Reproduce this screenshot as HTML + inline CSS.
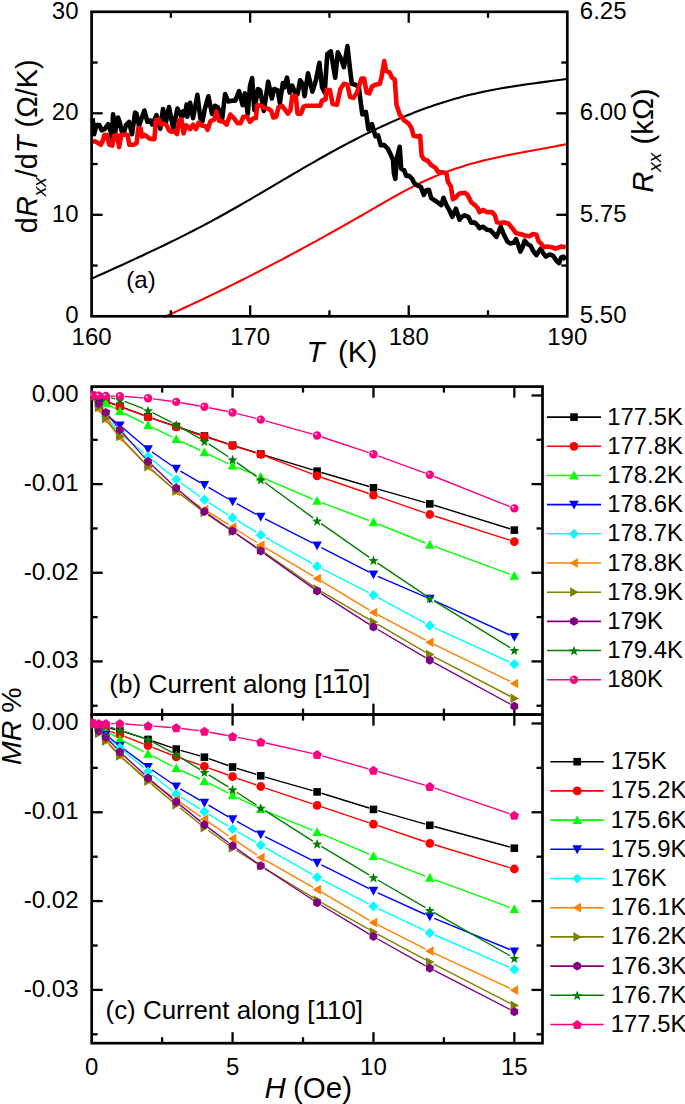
<!DOCTYPE html>
<html><head><meta charset="utf-8"><title>MR figure</title><style>html,body{margin:0;padding:0;background:#fff;}body{width:685px;height:1104px;overflow:hidden;}svg{display:block;font-family:"Liberation Sans",sans-serif;}</style></head><body>
<svg width="685" height="1104" viewBox="0 0 685 1104" font-family='"Liberation Sans", sans-serif' fill="#000">
<defs><radialGradient id="ball" cx="0.5" cy="0.5" r="0.5" fx="0.3" fy="0.3"><stop offset="0" stop-color="#FFFFFF"/><stop offset="0.12" stop-color="#FFD0E8"/><stop offset="0.3" stop-color="#FF2090"/><stop offset="0.5" stop-color="#FF0080"/><stop offset="1" stop-color="#F8007C"/></radialGradient><clipPath id="ca"><rect x="90.30" y="10.50" width="478.30" height="307.10"/></clipPath><clipPath id="cb"><rect x="90.40" y="385.30" width="453.40" height="329.30"/></clipPath><clipPath id="cc"><rect x="90.40" y="714.60" width="453.40" height="329.90"/></clipPath></defs>
<rect width="685" height="1104" fill="#fff"/>
<g clip-path="url(#ca)" fill="none" stroke-linejoin="round">
<polyline points="90.50,279.18 94.50,277.37 98.51,275.56 102.51,273.76 106.52,271.95 110.52,270.13 114.53,268.31 118.53,266.49 122.53,264.67 126.54,262.83 130.54,260.99 134.55,259.15 138.55,257.29 142.55,255.43 146.56,253.55 150.56,251.67 154.57,249.77 158.57,247.86 162.58,245.94 166.58,244.00 170.58,242.05 174.59,240.09 178.59,238.11 182.60,236.11 186.60,234.09 190.61,232.06 194.61,230.00 198.61,227.93 202.62,225.83 206.62,223.72 210.63,221.58 214.63,219.42 218.63,217.23 222.64,215.02 226.64,212.79 230.65,210.54 234.65,208.27 238.66,205.99 242.66,203.69 246.66,201.37 250.67,199.05 254.67,196.71 258.68,194.36 262.68,192.01 266.68,189.65 270.69,187.29 274.69,184.93 278.70,182.56 282.70,180.20 286.71,177.84 290.71,175.49 294.71,173.14 298.72,170.80 302.72,168.46 306.73,166.14 310.73,163.83 314.74,161.54 318.74,159.26 322.74,157.00 326.75,154.76 330.75,152.54 334.76,150.35 338.76,148.17 342.76,146.03 346.77,143.90 350.77,141.80 354.78,139.73 358.78,137.68 362.79,135.67 366.79,133.68 370.79,131.72 374.80,129.79 378.80,127.89 382.81,126.03 386.81,124.19 390.82,122.39 394.82,120.63 398.82,118.90 402.83,117.20 406.83,115.54 410.84,113.92 414.84,112.34 418.84,110.79 422.85,109.29 426.85,107.83 430.86,106.40 434.86,105.02 438.87,103.68 442.87,102.39 446.87,101.14 450.88,99.93 454.88,98.78 458.89,97.66 462.89,96.60 466.89,95.57 470.90,94.59 474.90,93.65 478.91,92.75 482.91,91.89 486.92,91.06 490.92,90.26 494.92,89.50 498.93,88.77 502.93,88.06 506.94,87.38 510.94,86.72 514.95,86.09 518.95,85.47 522.95,84.88 526.96,84.30 530.96,83.73 534.97,83.18 538.97,82.64 542.97,82.11 546.98,81.59 550.98,81.08 554.99,80.56 558.99,80.05 563.00,79.54 567.00,79.03" stroke="#000" stroke-width="2.1"/>
<polyline points="163.50,317.23 166.89,315.72 170.28,314.20 173.67,312.67 177.06,311.13 180.45,309.58 183.84,308.03 187.24,306.46 190.63,304.89 194.02,303.31 197.41,301.72 200.80,300.12 204.19,298.51 207.58,296.89 210.97,295.27 214.36,293.64 217.75,292.00 221.14,290.35 224.53,288.69 227.92,287.03 231.32,285.35 234.71,283.67 238.10,281.98 241.49,280.29 244.88,278.58 248.27,276.87 251.66,275.15 255.05,273.42 258.44,271.69 261.83,269.94 265.22,268.19 268.61,266.43 272.00,264.67 275.39,262.90 278.79,261.11 282.18,259.33 285.57,257.53 288.96,255.73 292.35,253.92 295.74,252.10 299.13,250.28 302.52,248.44 305.91,246.61 309.30,244.76 312.69,242.91 316.08,241.05 319.47,239.18 322.87,237.31 326.26,235.43 329.65,233.54 333.04,231.65 336.43,229.75 339.82,227.84 343.21,225.93 346.60,224.01 349.99,222.08 353.38,220.15 356.77,218.21 360.16,216.27 363.55,214.31 366.95,212.36 370.34,210.39 373.73,208.43 377.12,206.46 380.51,204.50 383.90,202.55 387.29,200.61 390.68,198.68 394.07,196.77 397.46,194.89 400.85,193.02 404.24,191.19 407.63,189.39 411.03,187.62 414.42,185.90 417.81,184.21 421.20,182.57 424.59,180.98 427.98,179.44 431.37,177.95 434.76,176.51 438.15,175.12 441.54,173.77 444.93,172.47 448.32,171.22 451.71,170.01 455.11,168.84 458.50,167.71 461.89,166.63 465.28,165.58 468.67,164.57 472.06,163.60 475.45,162.66 478.84,161.76 482.23,160.89 485.62,160.06 489.01,159.25 492.40,158.46 495.79,157.70 499.18,156.96 502.58,156.25 505.97,155.55 509.36,154.87 512.75,154.20 516.14,153.55 519.53,152.91 522.92,152.27 526.31,151.65 529.70,151.03 533.09,150.41 536.48,149.79 539.87,149.18 543.26,148.56 546.66,147.94 550.05,147.31 553.44,146.67 556.83,146.02 560.22,145.36 563.61,144.69 567.00,144.00" stroke="#FF0000" stroke-width="2.1"/>
<polyline points="92.60,118.20 94.10,134.20 96.40,125.10 99.40,125.10 101.70,130.40 104.70,128.90 108.10,124.30 110.80,131.90 111.50,140.00 113.10,114.40 115.30,131.90 118.00,117.50 119.90,122.80 121.80,131.90 123.70,133.40 126.00,125.10 129.00,122.00 132.00,134.20 135.10,112.50 136.40,113.50 139.00,125.70 144.40,110.50 147.40,121.90 150.00,120.40 152.30,124.50 156.50,115.10 160.30,128.70 163.00,109.00 166.00,121.90 169.00,107.10 173.20,128.70 177.40,108.60 181.60,117.30 183.10,111.30 185.00,115.10 186.60,104.50 187.19,116.72 190.11,102.85 193.03,118.18 197.41,94.82 200.33,118.18 202.52,121.09 204.71,109.42 208.36,96.28 212.01,113.80 214.93,105.77 217.85,107.23 222.23,118.18 225.15,94.09 228.07,101.39 231.72,100.66 235.36,100.66 239.01,91.17 242.66,105.04 244.85,93.36 247.77,113.80 249.96,86.06 252.15,78.03 254.34,110.15 257.99,88.98 260.18,90.44 263.83,110.88 268.21,81.68 271.86,98.47 274.05,88.98 277.70,90.44 279.89,102.85 282.81,83.14 284.38,87.30 287.01,77.67 289.64,92.56 292.26,85.55 294.89,92.56 297.52,94.31 300.15,80.29 302.78,83.80 304.53,96.06 308.03,73.29 312.41,91.68 315.91,80.29 319.42,62.78 322.05,87.30 324.67,92.56 327.30,54.02 330.81,51.39 335.19,77.67 337.81,52.26 341.32,59.27 343.95,67.15 347.45,46.13 350.08,69.78 351.83,83.80 355.33,84.67 358.84,87.30 360.59,101.32 362.34,114.46 365.84,111.83 368.47,129.35 371.98,124.09 375.48,136.36 378.11,135.48 380.74,145.12 384.24,145.12 387.74,148.62 390.37,153.88 393.00,160.01 393.87,172.99 395.33,178.83 396.79,158.39 399.71,146.72 401.17,168.61 404.09,170.07 406.28,175.91 409.20,175.91 412.12,178.83 414.31,183.21 417.23,185.40 420.88,186.86 423.80,194.89 425.99,190.51 428.91,189.78 431.09,197.81 434.01,200.00 437.66,202.19 441.31,205.11 443.50,197.81 446.42,205.11 449.34,210.22 452.26,216.79 455.91,208.76 459.56,219.71 461.75,216.79 464.67,215.33 468.32,216.79 471.24,222.63 474.89,222.63 477.81,225.55 479.49,228.18 483.14,226.72 486.79,229.64 490.44,230.36 493.36,233.28 496.28,236.93 498.47,232.55 500.66,226.72 503.58,234.01 507.23,241.31 510.15,243.50 513.80,242.77 515.99,239.12 518.18,244.96 520.36,251.53 522.55,247.15 524.74,240.58 527.66,244.23 530.58,245.69 533.50,251.53 536.42,255.18 538.61,251.53 540.80,248.61 542.99,252.99 545.91,256.64 549.56,254.45 553.21,255.91 556.13,260.29 559.05,263.21 561.24,257.37 563.43,256.64 565.62,259.56" stroke="#000" stroke-width="4.6"/>
<polyline points="91.00,141.00 95.60,141.60 100.90,144.80 103.20,139.50 104.30,135.10 107.00,135.10 109.30,144.80 112.30,145.60 114.20,135.70 116.90,134.90 119.10,147.10 121.40,134.90 125.20,134.50 127.50,134.90 129.40,144.80 133.60,144.80 136.60,143.30 138.30,128.00 140.60,128.50 142.10,136.60 144.50,134.80 146.40,136.20 149.30,138.40 152.20,139.10 154.40,139.10 155.90,120.10 158.80,119.40 161.00,124.50 163.90,123.80 166.80,125.30 169.00,130.40 171.20,131.80 174.10,131.10 177.10,134.00 179.20,120.10 181.40,119.40 183.60,133.30 185.80,125.30 187.19,126.20 190.11,129.12 193.03,124.74 195.95,129.12 198.87,122.55 201.79,125.47 205.44,126.20 207.63,129.85 210.55,121.09 214.20,119.64 216.39,111.61 219.31,121.09 223.69,121.82 226.61,124.74 230.26,114.53 233.91,118.18 237.55,123.28 240.47,123.28 243.39,116.72 247.04,116.72 249.96,121.82 253.61,118.18 255.80,118.18 257.26,105.04 260.91,105.77 264.56,107.96 268.21,108.69 271.13,110.88 273.32,117.45 276.24,116.72 278.43,107.23 282.08,105.77 285.26,110.08 287.88,113.58 290.51,110.08 292.26,96.06 295.77,96.06 297.52,113.58 301.02,113.58 303.65,106.57 306.28,105.70 311.53,105.70 320.29,105.70 322.05,100.44 325.55,99.57 326.43,89.93 329.93,89.93 332.56,103.95 336.94,104.82 340.44,89.05 343.95,83.80 347.45,84.67 350.08,96.94 353.58,97.81 357.08,92.56 361.46,78.54 364.09,78.54 366.72,92.56 369.35,93.43 371.98,86.43 375.48,84.67 379.86,83.80 381.61,76.79 384.24,61.02 385.99,70.66 389.50,72.41 392.12,77.67 394.75,79.42 396.50,104.82 400.01,115.33 401.17,116.06 404.09,120.44 408.47,123.36 411.39,127.74 413.58,135.77 417.23,136.50 420.15,135.77 421.61,155.47 423.80,159.12 427.45,160.58 431.09,164.96 435.47,167.88 438.39,172.26 442.04,172.26 446.42,172.99 447.88,181.75 450.80,186.13 452.99,199.27 455.91,197.08 459.56,193.43 464.67,192.70 467.59,194.89 471.24,202.19 474.89,205.11 477.81,208.03 479.49,212.12 483.14,209.93 486.79,212.12 491.90,212.12 494.82,215.04 497.01,222.34 500.66,223.07 504.31,222.34 508.69,223.80 512.34,228.18 515.99,233.28 520.36,234.01 524.74,235.47 529.85,236.20 532.77,234.01 536.42,234.74 538.61,241.31 541.53,244.23 543.72,247.15 547.37,246.42 551.75,247.15 555.40,248.61 557.59,247.88 561.24,246.42 565.62,247.15" stroke="#FF0000" stroke-width="4.6"/>
</g>
<rect x="91.60" y="11.80" width="475.70" height="304.50" fill="none" stroke="#000" stroke-width="2.7" stroke-linejoin="miter"/>
<line x1="170.88" y1="316.30" x2="170.88" y2="310.30" stroke="#000" stroke-width="2.3" stroke-linecap="butt"/>
<line x1="170.88" y1="11.80" x2="170.88" y2="17.80" stroke="#000" stroke-width="2.3" stroke-linecap="butt"/>
<line x1="250.17" y1="316.30" x2="250.17" y2="305.30" stroke="#000" stroke-width="2.3" stroke-linecap="butt"/>
<line x1="250.17" y1="11.80" x2="250.17" y2="22.80" stroke="#000" stroke-width="2.3" stroke-linecap="butt"/>
<line x1="329.45" y1="316.30" x2="329.45" y2="310.30" stroke="#000" stroke-width="2.3" stroke-linecap="butt"/>
<line x1="329.45" y1="11.80" x2="329.45" y2="17.80" stroke="#000" stroke-width="2.3" stroke-linecap="butt"/>
<line x1="408.73" y1="316.30" x2="408.73" y2="305.30" stroke="#000" stroke-width="2.3" stroke-linecap="butt"/>
<line x1="408.73" y1="11.80" x2="408.73" y2="22.80" stroke="#000" stroke-width="2.3" stroke-linecap="butt"/>
<line x1="488.02" y1="316.30" x2="488.02" y2="310.30" stroke="#000" stroke-width="2.3" stroke-linecap="butt"/>
<line x1="488.02" y1="11.80" x2="488.02" y2="17.80" stroke="#000" stroke-width="2.3" stroke-linecap="butt"/>
<line x1="91.60" y1="265.55" x2="97.60" y2="265.55" stroke="#000" stroke-width="2.3" stroke-linecap="butt"/>
<line x1="567.30" y1="265.55" x2="561.30" y2="265.55" stroke="#000" stroke-width="2.3" stroke-linecap="butt"/>
<line x1="91.60" y1="214.80" x2="102.60" y2="214.80" stroke="#000" stroke-width="2.3" stroke-linecap="butt"/>
<line x1="567.30" y1="214.80" x2="556.30" y2="214.80" stroke="#000" stroke-width="2.3" stroke-linecap="butt"/>
<line x1="91.60" y1="164.05" x2="97.60" y2="164.05" stroke="#000" stroke-width="2.3" stroke-linecap="butt"/>
<line x1="567.30" y1="164.05" x2="561.30" y2="164.05" stroke="#000" stroke-width="2.3" stroke-linecap="butt"/>
<line x1="91.60" y1="113.30" x2="102.60" y2="113.30" stroke="#000" stroke-width="2.3" stroke-linecap="butt"/>
<line x1="567.30" y1="113.30" x2="556.30" y2="113.30" stroke="#000" stroke-width="2.3" stroke-linecap="butt"/>
<line x1="91.60" y1="62.55" x2="97.60" y2="62.55" stroke="#000" stroke-width="2.3" stroke-linecap="butt"/>
<line x1="567.30" y1="62.55" x2="561.30" y2="62.55" stroke="#000" stroke-width="2.3" stroke-linecap="butt"/>
<text x="91.60" y="345.30" font-size="24" text-anchor="middle" >160</text>
<text x="250.17" y="345.30" font-size="24" text-anchor="middle" >170</text>
<text x="408.73" y="345.30" font-size="24" text-anchor="middle" >180</text>
<text x="567.30" y="345.30" font-size="24" text-anchor="middle" >190</text>
<text x="78.50" y="323.10" font-size="24" text-anchor="end" >0</text>
<text x="78.50" y="221.60" font-size="24" text-anchor="end" >10</text>
<text x="78.50" y="120.10" font-size="24" text-anchor="end" >20</text>
<text x="78.50" y="18.60" font-size="24" text-anchor="end" >30</text>
<text x="579.80" y="323.10" font-size="24" text-anchor="start" >5.50</text>
<text x="579.80" y="221.60" font-size="24" text-anchor="start" >5.75</text>
<text x="579.80" y="120.10" font-size="24" text-anchor="start" >6.00</text>
<text x="579.80" y="18.60" font-size="24" text-anchor="start" >6.25</text>
<text x="126.30" y="287.80" font-size="24" text-anchor="start" >(a)</text>
<text x="306.50" y="362.20" font-size="29.5" text-anchor="start" font-style="italic">T</text>
<text x="337.90" y="362.20" font-size="29.5" text-anchor="start" >(K)</text>
<text transform="translate(37.2,233.2) rotate(-90)" font-size="28.9">d<tspan font-style="italic">R</tspan><tspan font-size="19" font-style="italic" dy="8.5">xx</tspan><tspan dy="-8.5">/d</tspan><tspan font-style="italic">T</tspan> (Ω/K)</text>
<text transform="translate(652.6,192.8) rotate(-90)" font-size="29.3"><tspan font-style="italic">R</tspan><tspan font-size="19" font-style="italic" dy="8.8">xx</tspan><tspan dy="-8.8"> (kΩ)</tspan></text>
<rect x="91.70" y="386.60" width="450.80" height="328.00" fill="none" stroke="#000" stroke-width="2.7" stroke-linejoin="miter"/>
<rect x="91.70" y="714.60" width="450.80" height="328.60" fill="none" stroke="#000" stroke-width="2.7" stroke-linejoin="miter"/>
<line x1="162.14" y1="386.60" x2="162.14" y2="392.60" stroke="#000" stroke-width="2.3" stroke-linecap="butt"/>
<line x1="162.14" y1="708.60" x2="162.14" y2="720.60" stroke="#000" stroke-width="2.3" stroke-linecap="butt"/>
<line x1="162.14" y1="1043.20" x2="162.14" y2="1037.20" stroke="#000" stroke-width="2.3" stroke-linecap="butt"/>
<line x1="232.57" y1="386.60" x2="232.57" y2="397.60" stroke="#000" stroke-width="2.3" stroke-linecap="butt"/>
<line x1="232.57" y1="703.60" x2="232.57" y2="725.60" stroke="#000" stroke-width="2.3" stroke-linecap="butt"/>
<line x1="232.57" y1="1043.20" x2="232.57" y2="1032.20" stroke="#000" stroke-width="2.3" stroke-linecap="butt"/>
<line x1="303.01" y1="386.60" x2="303.01" y2="392.60" stroke="#000" stroke-width="2.3" stroke-linecap="butt"/>
<line x1="303.01" y1="708.60" x2="303.01" y2="720.60" stroke="#000" stroke-width="2.3" stroke-linecap="butt"/>
<line x1="303.01" y1="1043.20" x2="303.01" y2="1037.20" stroke="#000" stroke-width="2.3" stroke-linecap="butt"/>
<line x1="373.45" y1="386.60" x2="373.45" y2="397.60" stroke="#000" stroke-width="2.3" stroke-linecap="butt"/>
<line x1="373.45" y1="703.60" x2="373.45" y2="725.60" stroke="#000" stroke-width="2.3" stroke-linecap="butt"/>
<line x1="373.45" y1="1043.20" x2="373.45" y2="1032.20" stroke="#000" stroke-width="2.3" stroke-linecap="butt"/>
<line x1="443.89" y1="386.60" x2="443.89" y2="392.60" stroke="#000" stroke-width="2.3" stroke-linecap="butt"/>
<line x1="443.89" y1="708.60" x2="443.89" y2="720.60" stroke="#000" stroke-width="2.3" stroke-linecap="butt"/>
<line x1="443.89" y1="1043.20" x2="443.89" y2="1037.20" stroke="#000" stroke-width="2.3" stroke-linecap="butt"/>
<line x1="514.33" y1="386.60" x2="514.33" y2="397.60" stroke="#000" stroke-width="2.3" stroke-linecap="butt"/>
<line x1="514.33" y1="703.60" x2="514.33" y2="725.60" stroke="#000" stroke-width="2.3" stroke-linecap="butt"/>
<line x1="514.33" y1="1043.20" x2="514.33" y2="1032.20" stroke="#000" stroke-width="2.3" stroke-linecap="butt"/>
<line x1="91.70" y1="395.46" x2="102.70" y2="395.46" stroke="#000" stroke-width="2.3" stroke-linecap="butt"/>
<line x1="542.50" y1="395.46" x2="531.50" y2="395.46" stroke="#000" stroke-width="2.3" stroke-linecap="butt"/>
<line x1="91.70" y1="723.48" x2="102.70" y2="723.48" stroke="#000" stroke-width="2.3" stroke-linecap="butt"/>
<line x1="542.50" y1="723.48" x2="531.50" y2="723.48" stroke="#000" stroke-width="2.3" stroke-linecap="butt"/>
<line x1="91.70" y1="439.79" x2="97.70" y2="439.79" stroke="#000" stroke-width="2.3" stroke-linecap="butt"/>
<line x1="542.50" y1="439.79" x2="536.50" y2="439.79" stroke="#000" stroke-width="2.3" stroke-linecap="butt"/>
<line x1="91.70" y1="767.89" x2="97.70" y2="767.89" stroke="#000" stroke-width="2.3" stroke-linecap="butt"/>
<line x1="542.50" y1="767.89" x2="536.50" y2="767.89" stroke="#000" stroke-width="2.3" stroke-linecap="butt"/>
<line x1="91.70" y1="484.11" x2="102.70" y2="484.11" stroke="#000" stroke-width="2.3" stroke-linecap="butt"/>
<line x1="542.50" y1="484.11" x2="531.50" y2="484.11" stroke="#000" stroke-width="2.3" stroke-linecap="butt"/>
<line x1="91.70" y1="812.29" x2="102.70" y2="812.29" stroke="#000" stroke-width="2.3" stroke-linecap="butt"/>
<line x1="542.50" y1="812.29" x2="531.50" y2="812.29" stroke="#000" stroke-width="2.3" stroke-linecap="butt"/>
<line x1="91.70" y1="528.44" x2="97.70" y2="528.44" stroke="#000" stroke-width="2.3" stroke-linecap="butt"/>
<line x1="542.50" y1="528.44" x2="536.50" y2="528.44" stroke="#000" stroke-width="2.3" stroke-linecap="butt"/>
<line x1="91.70" y1="856.70" x2="97.70" y2="856.70" stroke="#000" stroke-width="2.3" stroke-linecap="butt"/>
<line x1="542.50" y1="856.70" x2="536.50" y2="856.70" stroke="#000" stroke-width="2.3" stroke-linecap="butt"/>
<line x1="91.70" y1="572.76" x2="102.70" y2="572.76" stroke="#000" stroke-width="2.3" stroke-linecap="butt"/>
<line x1="542.50" y1="572.76" x2="531.50" y2="572.76" stroke="#000" stroke-width="2.3" stroke-linecap="butt"/>
<line x1="91.70" y1="901.10" x2="102.70" y2="901.10" stroke="#000" stroke-width="2.3" stroke-linecap="butt"/>
<line x1="542.50" y1="901.10" x2="531.50" y2="901.10" stroke="#000" stroke-width="2.3" stroke-linecap="butt"/>
<line x1="91.70" y1="617.09" x2="97.70" y2="617.09" stroke="#000" stroke-width="2.3" stroke-linecap="butt"/>
<line x1="542.50" y1="617.09" x2="536.50" y2="617.09" stroke="#000" stroke-width="2.3" stroke-linecap="butt"/>
<line x1="91.70" y1="945.51" x2="97.70" y2="945.51" stroke="#000" stroke-width="2.3" stroke-linecap="butt"/>
<line x1="542.50" y1="945.51" x2="536.50" y2="945.51" stroke="#000" stroke-width="2.3" stroke-linecap="butt"/>
<line x1="91.70" y1="661.41" x2="102.70" y2="661.41" stroke="#000" stroke-width="2.3" stroke-linecap="butt"/>
<line x1="542.50" y1="661.41" x2="531.50" y2="661.41" stroke="#000" stroke-width="2.3" stroke-linecap="butt"/>
<line x1="91.70" y1="989.91" x2="102.70" y2="989.91" stroke="#000" stroke-width="2.3" stroke-linecap="butt"/>
<line x1="542.50" y1="989.91" x2="531.50" y2="989.91" stroke="#000" stroke-width="2.3" stroke-linecap="butt"/>
<line x1="91.70" y1="705.74" x2="97.70" y2="705.74" stroke="#000" stroke-width="2.3" stroke-linecap="butt"/>
<line x1="542.50" y1="705.74" x2="536.50" y2="705.74" stroke="#000" stroke-width="2.3" stroke-linecap="butt"/>
<line x1="91.70" y1="1034.32" x2="97.70" y2="1034.32" stroke="#000" stroke-width="2.3" stroke-linecap="butt"/>
<line x1="542.50" y1="1034.32" x2="536.50" y2="1034.32" stroke="#000" stroke-width="2.3" stroke-linecap="butt"/>
<g clip-path="url(#cb)"><path d="M110.11,402.77L115.55,404.73M124.19,407.91L143.74,415.19M152.40,418.30L171.88,425.00M180.58,427.97L200.04,434.53M208.77,437.44L228.21,443.86M236.97,446.66L256.35,452.64M265.15,455.34L312.70,469.86M321.51,472.50L369.04,486.50M377.87,489.06L425.38,502.64M434.19,505.26L509.93,528.74" stroke="#000000" stroke-width="1.4" fill="none"/><rect x="87.90" y="391.70" width="7.60" height="7.60" fill="#000000"/><rect x="94.94" y="394.20" width="7.60" height="7.60" fill="#000000"/><rect x="101.99" y="397.40" width="7.60" height="7.60" fill="#000000"/><rect x="116.08" y="402.50" width="7.60" height="7.60" fill="#000000"/><rect x="144.25" y="413.00" width="7.60" height="7.60" fill="#000000"/><rect x="172.43" y="422.70" width="7.60" height="7.60" fill="#000000"/><rect x="200.60" y="432.20" width="7.60" height="7.60" fill="#000000"/><rect x="228.77" y="441.50" width="7.60" height="7.60" fill="#000000"/><rect x="256.95" y="450.20" width="7.60" height="7.60" fill="#000000"/><rect x="313.30" y="467.40" width="7.60" height="7.60" fill="#000000"/><rect x="369.65" y="484.00" width="7.60" height="7.60" fill="#000000"/><rect x="426.00" y="500.10" width="7.60" height="7.60" fill="#000000"/><rect x="510.53" y="526.30" width="7.60" height="7.60" fill="#000000"/></g>
<g clip-path="url(#cb)"><path d="M110.37,403.13L115.29,404.97M124.48,408.38L143.45,415.32M152.68,418.61L171.60,425.19M180.85,428.41L199.77,434.99M209.07,438.09L227.91,444.11M237.25,447.06L256.07,452.94M265.33,456.15L312.52,474.15M321.74,477.48L368.81,493.52M378.08,496.70L425.17,512.90M434.47,516.00L509.66,540.10" stroke="#FF0000" stroke-width="1.4" fill="none"/><circle cx="91.70" cy="395.50" r="4.40" fill="#FF0000"/><circle cx="98.74" cy="398.10" r="4.40" fill="#FF0000"/><circle cx="105.79" cy="401.40" r="4.40" fill="#FF0000"/><circle cx="119.88" cy="406.70" r="4.40" fill="#FF0000"/><circle cx="148.05" cy="417.00" r="4.40" fill="#FF0000"/><circle cx="176.23" cy="426.80" r="4.40" fill="#FF0000"/><circle cx="204.40" cy="436.60" r="4.40" fill="#FF0000"/><circle cx="232.57" cy="445.60" r="4.40" fill="#FF0000"/><circle cx="260.75" cy="454.40" r="4.40" fill="#FF0000"/><circle cx="317.10" cy="475.90" r="4.40" fill="#FF0000"/><circle cx="373.45" cy="495.10" r="4.40" fill="#FF0000"/><circle cx="429.80" cy="514.50" r="4.40" fill="#FF0000"/><circle cx="514.33" cy="541.60" r="4.40" fill="#FF0000"/></g>
<g clip-path="url(#cb)"><path d="M109.97,405.55L115.69,408.75M124.17,413.25L143.76,423.05M152.36,427.31L171.91,436.89M180.57,441.05L200.06,450.25M208.74,454.35L228.23,463.55M237.03,467.39L256.29,475.11M265.17,478.78L312.68,499.02M321.59,502.60L368.96,520.50M377.91,523.99L425.34,543.01M434.31,546.45L509.82,574.15" stroke="#00FF00" stroke-width="1.4" fill="none"/><polygon points="91.70,390.66 96.50,399.46 86.90,399.46" fill="#00FF00"/><polygon points="98.74,394.16 103.54,402.96 93.94,402.96" fill="#00FF00"/><polygon points="105.79,398.36 110.59,407.16 100.99,407.16" fill="#00FF00"/><polygon points="119.88,406.26 124.67,415.06 115.08,415.06" fill="#00FF00"/><polygon points="148.05,420.36 152.85,429.16 143.25,429.16" fill="#00FF00"/><polygon points="176.23,434.16 181.03,442.96 171.43,442.96" fill="#00FF00"/><polygon points="204.40,447.46 209.20,456.26 199.60,456.26" fill="#00FF00"/><polygon points="232.57,460.76 237.38,469.56 227.77,469.56" fill="#00FF00"/><polygon points="260.75,472.06 265.55,480.86 255.95,480.86" fill="#00FF00"/><polygon points="317.10,496.06 321.90,504.86 312.30,504.86" fill="#00FF00"/><polygon points="373.45,517.36 378.25,526.16 368.65,526.16" fill="#00FF00"/><polygon points="429.80,539.96 434.60,548.76 425.00,548.76" fill="#00FF00"/><polygon points="514.33,570.96 519.12,579.76 509.53,579.76" fill="#00FF00"/></g>
<g clip-path="url(#cb)"><path d="M95.03,398.95L95.41,399.35M101.25,406.89L103.28,410.21M109.56,417.27L116.10,422.43M123.54,428.51L144.39,446.19M152.00,452.02L172.27,465.98M180.38,471.10L200.25,482.60M208.55,487.41L228.43,498.99M236.79,503.70L256.54,514.50M265.03,518.97L312.82,543.23M321.37,547.60L369.18,572.20M377.86,576.30L425.39,596.80M434.17,600.68L509.95,635.02" stroke="#0000FF" stroke-width="1.4" fill="none"/><polygon points="91.70,400.34 96.50,391.54 86.90,391.54" fill="#0000FF"/><polygon points="98.74,407.64 103.54,398.84 93.94,398.84" fill="#0000FF"/><polygon points="105.79,419.14 110.59,410.34 100.99,410.34" fill="#0000FF"/><polygon points="119.88,430.24 124.67,421.44 115.08,421.44" fill="#0000FF"/><polygon points="148.05,454.14 152.85,445.34 143.25,445.34" fill="#0000FF"/><polygon points="176.23,473.54 181.03,464.74 171.43,464.74" fill="#0000FF"/><polygon points="204.40,489.84 209.20,481.04 199.60,481.04" fill="#0000FF"/><polygon points="232.57,506.24 237.38,497.44 227.77,497.44" fill="#0000FF"/><polygon points="260.75,521.64 265.55,512.84 255.95,512.84" fill="#0000FF"/><polygon points="317.10,550.24 321.90,541.44 312.30,541.44" fill="#0000FF"/><polygon points="373.45,579.24 378.25,570.44 368.65,570.44" fill="#0000FF"/><polygon points="429.80,603.54 434.60,594.74 425.00,594.74" fill="#0000FF"/><polygon points="514.33,641.84 519.12,633.04 509.53,633.04" fill="#0000FF"/></g>
<g clip-path="url(#cb)"><path d="M94.65,399.90L95.79,401.60M101.70,410.40L102.83,412.10M109.23,420.53L116.43,428.97M123.95,436.39L143.97,453.01M152.15,459.76L172.13,476.14M180.53,482.59L200.09,496.61M208.87,502.55L228.11,514.85M237.11,520.45L256.22,532.05M265.38,537.38L312.47,563.62M321.82,568.62L368.73,592.68M378.11,597.63L425.14,623.17M434.62,627.90L509.50,662.00" stroke="#00FFFF" stroke-width="1.4" fill="none"/><polygon points="91.70,390.40 96.80,395.50 91.70,400.60 86.60,395.50" fill="#00FFFF"/><polygon points="98.74,400.90 103.84,406.00 98.74,411.10 93.64,406.00" fill="#00FFFF"/><polygon points="105.79,411.40 110.89,416.50 105.79,421.60 100.69,416.50" fill="#00FFFF"/><polygon points="119.88,427.90 124.97,433.00 119.88,438.10 114.78,433.00" fill="#00FFFF"/><polygon points="148.05,451.30 153.15,456.40 148.05,461.50 142.95,456.40" fill="#00FFFF"/><polygon points="176.23,474.40 181.33,479.50 176.23,484.60 171.13,479.50" fill="#00FFFF"/><polygon points="204.40,494.60 209.50,499.70 204.40,504.80 199.30,499.70" fill="#00FFFF"/><polygon points="232.57,512.60 237.67,517.70 232.57,522.80 227.47,517.70" fill="#00FFFF"/><polygon points="260.75,529.70 265.85,534.80 260.75,539.90 255.65,534.80" fill="#00FFFF"/><polygon points="317.10,561.10 322.20,566.20 317.10,571.30 312.00,566.20" fill="#00FFFF"/><polygon points="373.45,590.00 378.55,595.10 373.45,600.20 368.35,595.10" fill="#00FFFF"/><polygon points="429.80,620.60 434.90,625.70 429.80,630.80 424.70,625.70" fill="#00FFFF"/><polygon points="514.33,659.10 519.43,664.20 514.33,669.30 509.23,664.20" fill="#00FFFF"/></g>
<g clip-path="url(#cb)"><path d="M93.77,399.61L96.68,405.39M101.31,413.32L103.22,416.18M108.66,423.59L117.00,434.01M123.07,440.91L144.86,463.49M151.51,469.83L172.77,488.47M180.10,493.98L200.52,507.02M208.31,511.93L228.67,524.57M236.45,529.48L256.87,542.52M264.70,547.35L313.15,576.15M321.04,580.88L369.51,610.12M377.52,614.65L425.73,640.15M433.93,644.32L510.19,681.48" stroke="#FF8000" stroke-width="1.4" fill="none"/><polygon points="87.03,395.50 95.53,390.65 95.53,400.35" fill="#FF8000"/><polygon points="94.07,409.50 102.57,404.65 102.57,414.35" fill="#FF8000"/><polygon points="101.11,420.00 109.61,415.15 109.61,424.85" fill="#FF8000"/><polygon points="115.20,437.60 123.70,432.75 123.70,442.45" fill="#FF8000"/><polygon points="143.38,466.80 151.88,461.95 151.88,471.65" fill="#FF8000"/><polygon points="171.55,491.50 180.05,486.65 180.05,496.35" fill="#FF8000"/><polygon points="199.72,509.50 208.22,504.65 208.22,514.35" fill="#FF8000"/><polygon points="227.90,527.00 236.40,522.15 236.40,531.85" fill="#FF8000"/><polygon points="256.07,545.00 264.57,540.15 264.57,549.85" fill="#FF8000"/><polygon points="312.43,578.50 320.93,573.65 320.93,583.35" fill="#FF8000"/><polygon points="368.77,612.50 377.27,607.65 377.27,617.35" fill="#FF8000"/><polygon points="425.12,642.30 433.62,637.45 433.62,647.15" fill="#FF8000"/><polygon points="509.65,683.50 518.15,678.65 518.15,688.35" fill="#FF8000"/></g>
<g clip-path="url(#cb)"><path d="M94.04,399.46L96.40,403.44M101.19,411.29L103.34,414.71M108.63,422.21L117.03,432.89M123.02,439.86L144.91,463.24M151.52,469.63L172.76,488.17M179.89,493.97L200.73,509.73M208.21,515.07L228.76,528.93M236.42,534.02L256.90,547.48M264.53,552.62L313.32,586.38M321.07,591.32L369.48,619.58M377.43,624.21L425.82,652.29M433.88,656.72L510.24,696.28" stroke="#808000" stroke-width="1.4" fill="none"/><polygon points="96.38,395.50 87.88,390.65 87.88,400.35" fill="#808000"/><polygon points="103.42,407.40 94.92,402.55 94.92,412.25" fill="#808000"/><polygon points="110.46,418.60 101.96,413.75 101.96,423.45" fill="#808000"/><polygon points="124.55,436.50 116.05,431.65 116.05,441.35" fill="#808000"/><polygon points="152.73,466.60 144.23,461.75 144.23,471.45" fill="#808000"/><polygon points="180.90,491.20 172.40,486.35 172.40,496.05" fill="#808000"/><polygon points="209.08,512.50 200.58,507.65 200.58,517.35" fill="#808000"/><polygon points="237.25,531.50 228.75,526.65 228.75,536.35" fill="#808000"/><polygon points="265.43,550.00 256.93,545.15 256.93,554.85" fill="#808000"/><polygon points="321.78,589.00 313.28,584.15 313.28,593.85" fill="#808000"/><polygon points="378.12,621.90 369.62,617.05 369.62,626.75" fill="#808000"/><polygon points="434.48,654.60 425.98,649.75 425.98,659.45" fill="#808000"/><polygon points="519.00,698.40 510.50,693.55 510.50,703.25" fill="#808000"/></g>
<g clip-path="url(#cb)"><path d="M94.94,399.18L95.51,399.82M101.76,407.36L102.77,408.64M108.88,416.30L116.78,426.00M123.13,433.46L144.79,457.84M151.61,464.86L172.66,484.74M179.99,491.24L200.64,508.46M208.44,514.38L228.54,528.22M236.56,533.85L256.76,548.25M264.75,553.93L313.10,588.17M321.23,593.64L369.32,624.36M377.67,629.49L425.58,657.71M434.10,662.55L510.02,703.95" stroke="#800080" stroke-width="1.4" fill="none"/><polygon points="91.70,391.00 95.60,393.25 95.60,397.75 91.70,400.00 87.80,397.75 87.80,393.25" fill="#800080"/><polygon points="98.74,399.00 102.64,401.25 102.64,405.75 98.74,408.00 94.85,405.75 94.85,401.25" fill="#800080"/><polygon points="105.79,408.00 109.68,410.25 109.68,414.75 105.79,417.00 101.89,414.75 101.89,410.25" fill="#800080"/><polygon points="119.88,425.30 123.77,427.55 123.77,432.05 119.88,434.30 115.98,432.05 115.98,427.55" fill="#800080"/><polygon points="148.05,457.00 151.95,459.25 151.95,463.75 148.05,466.00 144.15,463.75 144.15,459.25" fill="#800080"/><polygon points="176.23,483.60 180.12,485.85 180.12,490.35 176.23,492.60 172.33,490.35 172.33,485.85" fill="#800080"/><polygon points="204.40,507.10 208.30,509.35 208.30,513.85 204.40,516.10 200.50,513.85 200.50,509.35" fill="#800080"/><polygon points="232.57,526.50 236.47,528.75 236.47,533.25 232.57,535.50 228.68,533.25 228.68,528.75" fill="#800080"/><polygon points="260.75,546.60 264.65,548.85 264.65,553.35 260.75,555.60 256.85,553.35 256.85,548.85" fill="#800080"/><polygon points="317.10,586.50 321.00,588.75 321.00,593.25 317.10,595.50 313.20,593.25 313.20,588.75" fill="#800080"/><polygon points="373.45,622.50 377.35,624.75 377.35,629.25 373.45,631.50 369.55,629.25 369.55,624.75" fill="#800080"/><polygon points="429.80,655.70 433.70,657.95 433.70,662.45 429.80,664.70 425.90,662.45 425.90,657.95" fill="#800080"/><polygon points="514.33,701.80 518.22,704.05 518.22,708.55 514.33,710.80 510.43,708.55 510.43,704.05" fill="#800080"/></g>
<g clip-path="url(#cb)"><path d="M110.70,397.91L114.96,398.69M124.54,401.39L143.38,408.61M152.51,412.66L171.77,422.44M180.55,427.22L200.08,438.58M208.59,443.83L228.39,456.77M236.65,462.39L256.67,476.61M264.78,482.46L313.07,517.84M321.19,523.67L369.36,557.43M377.60,563.09L425.65,595.41M434.06,600.82L510.07,647.58" stroke="#008000" stroke-width="1.4" fill="none"/><polygon points="91.70,390.80 92.99,394.32 96.74,394.46 93.79,396.78 94.82,400.39 91.70,398.30 88.58,400.39 89.61,396.78 86.66,394.46 90.41,394.32" fill="#008000"/><polygon points="98.74,391.20 100.04,394.72 103.78,394.86 100.84,397.18 101.86,400.79 98.74,398.70 95.63,400.79 96.65,397.18 93.70,394.86 97.45,394.72" fill="#008000"/><polygon points="105.79,392.30 107.08,395.82 110.83,395.96 107.88,398.28 108.90,401.89 105.79,399.80 102.67,401.89 103.70,398.28 100.75,395.96 104.49,395.82" fill="#008000"/><polygon points="119.88,394.90 121.17,398.42 124.92,398.56 121.97,400.88 122.99,404.49 119.88,402.40 116.76,404.49 117.78,400.88 114.83,398.56 118.58,398.42" fill="#008000"/><polygon points="148.05,405.70 149.34,409.22 153.09,409.36 150.14,411.68 151.17,415.29 148.05,413.20 144.93,415.29 145.96,411.68 143.01,409.36 146.76,409.22" fill="#008000"/><polygon points="176.23,420.00 177.52,423.52 181.27,423.66 178.32,425.98 179.34,429.59 176.23,427.50 173.11,429.59 174.13,425.98 171.18,423.66 174.93,423.52" fill="#008000"/><polygon points="204.40,436.40 205.69,439.92 209.44,440.06 206.49,442.38 207.52,445.99 204.40,443.90 201.28,445.99 202.31,442.38 199.36,440.06 203.11,439.92" fill="#008000"/><polygon points="232.57,454.80 233.87,458.32 237.62,458.46 234.67,460.78 235.69,464.39 232.57,462.30 229.46,464.39 230.48,460.78 227.53,458.46 231.28,458.32" fill="#008000"/><polygon points="260.75,474.80 262.04,478.32 265.79,478.46 262.84,480.78 263.87,484.39 260.75,482.30 257.63,484.39 258.66,480.78 255.71,478.46 259.46,478.32" fill="#008000"/><polygon points="317.10,516.10 318.39,519.62 322.14,519.76 319.19,522.08 320.22,525.69 317.10,523.60 313.98,525.69 315.01,522.08 312.06,519.76 315.81,519.62" fill="#008000"/><polygon points="373.45,555.60 374.74,559.12 378.49,559.26 375.54,561.58 376.57,565.19 373.45,563.10 370.33,565.19 371.36,561.58 368.41,559.26 372.16,559.12" fill="#008000"/><polygon points="429.80,593.50 431.09,597.02 434.84,597.16 431.89,599.48 432.92,603.09 429.80,601.00 426.68,603.09 427.71,599.48 424.76,597.16 428.51,597.02" fill="#008000"/><polygon points="514.33,645.50 515.62,649.02 519.37,649.16 516.42,651.48 517.44,655.09 514.33,653.00 511.21,655.09 512.23,651.48 509.28,649.16 513.03,649.02" fill="#008000"/></g>
<g clip-path="url(#cb)"><path d="M110.59,396.00L115.08,396.10M124.66,396.54L143.26,397.86M152.81,398.82L171.47,401.28M180.95,402.72L199.67,405.98M209.10,407.75L227.87,411.55M237.23,413.67L256.10,418.43M265.37,420.90L312.48,434.20M321.66,437.01L368.89,452.69M377.96,455.84L425.29,473.06M434.26,476.48L509.87,506.62" stroke="#FF0080" stroke-width="1.4" fill="none"/><circle cx="91.70" cy="395.50" r="4.20" fill="url(#ball)"/><circle cx="98.74" cy="395.60" r="4.20" fill="url(#ball)"/><circle cx="105.79" cy="395.90" r="4.20" fill="url(#ball)"/><circle cx="119.88" cy="396.20" r="4.20" fill="url(#ball)"/><circle cx="148.05" cy="398.20" r="4.20" fill="url(#ball)"/><circle cx="176.23" cy="401.90" r="4.20" fill="url(#ball)"/><circle cx="204.40" cy="406.80" r="4.20" fill="url(#ball)"/><circle cx="232.57" cy="412.50" r="4.20" fill="url(#ball)"/><circle cx="260.75" cy="419.60" r="4.20" fill="url(#ball)"/><circle cx="317.10" cy="435.50" r="4.20" fill="url(#ball)"/><circle cx="373.45" cy="454.20" r="4.20" fill="url(#ball)"/><circle cx="429.80" cy="474.70" r="4.20" fill="url(#ball)"/><circle cx="514.33" cy="508.40" r="4.20" fill="url(#ball)"/></g>
<g clip-path="url(#cc)"><path d="M110.27,728.32L115.39,729.48M124.26,731.90L143.67,738.10M152.40,740.98L171.87,747.62M180.65,750.37L199.98,755.93M208.74,758.71L228.23,765.49M236.97,768.37L256.36,774.43M265.17,777.06L312.68,790.64M321.49,793.26L369.06,808.04M377.88,810.65L425.37,824.05M434.24,826.50L509.89,847.00" stroke="#000000" stroke-width="1.4" fill="none"/><rect x="87.90" y="719.70" width="7.60" height="7.60" fill="#000000"/><rect x="94.94" y="721.20" width="7.60" height="7.60" fill="#000000"/><rect x="101.99" y="723.50" width="7.60" height="7.60" fill="#000000"/><rect x="116.08" y="726.70" width="7.60" height="7.60" fill="#000000"/><rect x="144.25" y="735.70" width="7.60" height="7.60" fill="#000000"/><rect x="172.43" y="745.30" width="7.60" height="7.60" fill="#000000"/><rect x="200.60" y="753.40" width="7.60" height="7.60" fill="#000000"/><rect x="228.77" y="763.20" width="7.60" height="7.60" fill="#000000"/><rect x="256.95" y="772.00" width="7.60" height="7.60" fill="#000000"/><rect x="313.30" y="788.10" width="7.60" height="7.60" fill="#000000"/><rect x="369.65" y="805.60" width="7.60" height="7.60" fill="#000000"/><rect x="426.00" y="821.50" width="7.60" height="7.60" fill="#000000"/><rect x="510.53" y="844.40" width="7.60" height="7.60" fill="#000000"/></g>
<g clip-path="url(#cc)"><path d="M110.44,731.55L115.23,733.15M124.44,736.47L143.48,743.83M152.60,747.41L171.67,754.99M180.86,758.38L199.76,764.82M209.00,768.08L227.97,775.02M237.20,778.31L256.12,784.89M265.40,788.06L312.45,803.84M321.75,806.94L368.80,822.56M378.09,825.68L425.16,841.72M434.49,844.73L509.64,867.57" stroke="#FF0000" stroke-width="1.4" fill="none"/><circle cx="91.70" cy="723.50" r="4.40" fill="#FF0000"/><circle cx="98.74" cy="726.00" r="4.40" fill="#FF0000"/><circle cx="105.79" cy="730.00" r="4.40" fill="#FF0000"/><circle cx="119.88" cy="734.70" r="4.40" fill="#FF0000"/><circle cx="148.05" cy="745.60" r="4.40" fill="#FF0000"/><circle cx="176.23" cy="756.80" r="4.40" fill="#FF0000"/><circle cx="204.40" cy="766.40" r="4.40" fill="#FF0000"/><circle cx="232.57" cy="776.70" r="4.40" fill="#FF0000"/><circle cx="260.75" cy="786.50" r="4.40" fill="#FF0000"/><circle cx="317.10" cy="805.40" r="4.40" fill="#FF0000"/><circle cx="373.45" cy="824.10" r="4.40" fill="#FF0000"/><circle cx="429.80" cy="843.30" r="4.40" fill="#FF0000"/><circle cx="514.33" cy="869.00" r="4.40" fill="#FF0000"/></g>
<g clip-path="url(#cc)"><path d="M109.94,733.31L115.73,736.69M124.13,741.32L143.79,751.58M152.33,755.97L171.94,765.93M180.59,770.10L200.04,779.00M208.68,783.17L228.29,793.13M236.89,797.40L256.43,806.90M265.19,810.82L312.66,830.28M321.52,833.98L369.03,854.22M377.93,857.83L425.32,876.17M434.30,879.56L509.82,907.34" stroke="#00FF00" stroke-width="1.4" fill="none"/><polygon points="91.70,718.66 96.50,727.46 86.90,727.46" fill="#00FF00"/><polygon points="98.74,722.16 103.54,730.96 93.94,730.96" fill="#00FF00"/><polygon points="105.79,726.06 110.59,734.86 100.99,734.86" fill="#00FF00"/><polygon points="119.88,734.26 124.67,743.06 115.08,743.06" fill="#00FF00"/><polygon points="148.05,748.96 152.85,757.76 143.25,757.76" fill="#00FF00"/><polygon points="176.23,763.26 181.03,772.06 171.43,772.06" fill="#00FF00"/><polygon points="204.40,776.16 209.20,784.96 199.60,784.96" fill="#00FF00"/><polygon points="232.57,790.46 237.38,799.26 227.77,799.26" fill="#00FF00"/><polygon points="260.75,804.16 265.55,812.96 255.95,812.96" fill="#00FF00"/><polygon points="317.10,827.26 321.90,836.06 312.30,836.06" fill="#00FF00"/><polygon points="373.45,851.26 378.25,860.06 368.65,860.06" fill="#00FF00"/><polygon points="429.80,873.06 434.60,881.86 425.00,881.86" fill="#00FF00"/><polygon points="514.33,904.16 519.12,912.96 509.53,912.96" fill="#00FF00"/></g>
<g clip-path="url(#cc)"><path d="M109.52,737.72L116.14,743.08M123.73,748.96L144.19,764.14M152.00,769.73L172.28,783.77M180.38,788.90L200.25,800.40M208.55,805.21L228.43,816.79M236.79,821.49L256.53,832.21M265.04,836.65L312.81,860.65M321.40,864.94L369.15,888.66M377.82,892.79L425.43,914.51M434.24,918.33L509.89,949.57" stroke="#0000FF" stroke-width="1.4" fill="none"/><polygon points="91.70,728.34 96.50,719.54 86.90,719.54" fill="#0000FF"/><polygon points="98.74,733.84 103.54,725.04 93.94,725.04" fill="#0000FF"/><polygon points="105.79,739.54 110.59,730.74 100.99,730.74" fill="#0000FF"/><polygon points="119.88,750.94 124.67,742.14 115.08,742.14" fill="#0000FF"/><polygon points="148.05,771.84 152.85,763.04 143.25,763.04" fill="#0000FF"/><polygon points="176.23,791.34 181.03,782.54 171.43,782.54" fill="#0000FF"/><polygon points="204.40,807.64 209.20,798.84 199.60,798.84" fill="#0000FF"/><polygon points="232.57,824.04 237.38,815.24 227.77,815.24" fill="#0000FF"/><polygon points="260.75,839.34 265.55,830.54 255.95,830.54" fill="#0000FF"/><polygon points="317.10,867.64 321.90,858.84 312.30,858.84" fill="#0000FF"/><polygon points="373.45,895.64 378.25,886.84 368.65,886.84" fill="#0000FF"/><polygon points="429.80,921.34 434.60,912.54 425.00,912.54" fill="#0000FF"/><polygon points="514.33,956.24 519.12,947.44 509.53,947.44" fill="#0000FF"/></g>
<g clip-path="url(#cc)"><path d="M110.04,740.17L115.63,744.33M123.91,750.94L144.02,768.06M152.19,774.81L172.08,790.69M180.72,796.81L199.90,808.79M208.91,814.38L228.07,826.22M237.18,831.63L256.15,842.47M265.35,847.73L312.50,874.67M321.81,879.73L368.74,903.87M378.24,908.56L425.01,930.64M434.67,935.00L509.46,967.30" stroke="#00FFFF" stroke-width="1.4" fill="none"/><polygon points="91.70,718.40 96.80,723.50 91.70,728.60 86.60,723.50" fill="#00FFFF"/><polygon points="98.74,724.90 103.84,730.00 98.74,735.10 93.64,730.00" fill="#00FFFF"/><polygon points="105.79,731.90 110.89,737.00 105.79,742.10 100.69,737.00" fill="#00FFFF"/><polygon points="119.88,742.40 124.97,747.50 119.88,752.60 114.78,747.50" fill="#00FFFF"/><polygon points="148.05,766.40 153.15,771.50 148.05,776.60 142.95,771.50" fill="#00FFFF"/><polygon points="176.23,788.90 181.33,794.00 176.23,799.10 171.13,794.00" fill="#00FFFF"/><polygon points="204.40,806.50 209.50,811.60 204.40,816.70 199.30,811.60" fill="#00FFFF"/><polygon points="232.57,823.90 237.67,829.00 232.57,834.10 227.47,829.00" fill="#00FFFF"/><polygon points="260.75,840.00 265.85,845.10 260.75,850.20 255.65,845.10" fill="#00FFFF"/><polygon points="317.10,872.20 322.20,877.30 317.10,882.40 312.00,877.30" fill="#00FFFF"/><polygon points="373.45,901.20 378.55,906.30 373.45,911.40 368.35,906.30" fill="#00FFFF"/><polygon points="429.80,927.80 434.90,932.90 429.80,938.00 424.70,932.90" fill="#00FFFF"/><polygon points="514.33,964.30 519.43,969.40 514.33,974.50 509.23,969.40" fill="#00FFFF"/></g>
<g clip-path="url(#cc)"><path d="M94.85,726.85L95.59,727.65M101.58,734.62L102.95,736.38M108.86,743.42L116.80,752.28M123.36,758.70L144.57,777.00M151.83,782.62L172.44,796.88M179.99,802.14L200.63,816.56M208.19,821.81L228.79,835.99M236.40,841.16L256.93,854.94M264.75,859.78L313.10,887.32M321.07,891.92L369.48,920.28M377.55,924.68L425.70,949.02M433.97,953.03L510.15,988.27" stroke="#FF8000" stroke-width="1.4" fill="none"/><polygon points="87.03,723.50 95.53,718.65 95.53,728.35" fill="#FF8000"/><polygon points="94.07,731.00 102.57,726.15 102.57,735.85" fill="#FF8000"/><polygon points="101.11,740.00 109.61,735.15 109.61,744.85" fill="#FF8000"/><polygon points="115.20,755.70 123.70,750.85 123.70,760.55" fill="#FF8000"/><polygon points="143.38,780.00 151.88,775.15 151.88,784.85" fill="#FF8000"/><polygon points="171.55,799.50 180.05,794.65 180.05,804.35" fill="#FF8000"/><polygon points="199.72,819.20 208.22,814.35 208.22,824.05" fill="#FF8000"/><polygon points="227.90,838.60 236.40,833.75 236.40,843.45" fill="#FF8000"/><polygon points="256.07,857.50 264.57,852.65 264.57,862.35" fill="#FF8000"/><polygon points="312.43,889.60 320.93,884.75 320.93,894.45" fill="#FF8000"/><polygon points="368.77,922.60 377.27,917.75 377.27,927.45" fill="#FF8000"/><polygon points="425.12,951.10 433.62,946.25 433.62,955.95" fill="#FF8000"/><polygon points="509.65,990.20 518.15,985.35 518.15,995.05" fill="#FF8000"/></g>
<g clip-path="url(#cc)"><path d="M94.35,727.26L96.09,729.74M101.85,736.89L102.68,737.81M108.98,744.51L116.68,752.49M123.29,758.88L144.63,778.12M151.58,784.15L172.70,801.85M179.80,807.69L200.82,824.71M208.13,830.30L228.85,845.30M236.45,850.48L256.87,863.52M264.69,868.38L313.16,897.62M321.10,902.27L369.45,929.73M377.51,934.17L425.74,959.93M433.89,964.20L510.23,1003.30" stroke="#808000" stroke-width="1.4" fill="none"/><polygon points="96.38,723.50 87.88,718.65 87.88,728.35" fill="#808000"/><polygon points="103.42,733.50 94.92,728.65 94.92,738.35" fill="#808000"/><polygon points="110.46,741.20 101.96,736.35 101.96,746.05" fill="#808000"/><polygon points="124.55,755.80 116.05,750.95 116.05,760.65" fill="#808000"/><polygon points="152.73,781.20 144.23,776.35 144.23,786.05" fill="#808000"/><polygon points="180.90,804.80 172.40,799.95 172.40,809.65" fill="#808000"/><polygon points="209.08,827.60 200.58,822.75 200.58,832.45" fill="#808000"/><polygon points="237.25,848.00 228.75,843.15 228.75,852.85" fill="#808000"/><polygon points="265.43,866.00 256.93,861.15 256.93,870.85" fill="#808000"/><polygon points="321.78,900.00 313.28,895.15 313.28,904.85" fill="#808000"/><polygon points="378.12,932.00 369.62,927.15 369.62,936.85" fill="#808000"/><polygon points="434.48,962.10 425.98,957.25 425.98,966.95" fill="#808000"/><polygon points="519.00,1005.40 510.50,1000.55 510.50,1010.25" fill="#808000"/></g>
<g clip-path="url(#cc)"><path d="M109.19,740.83L116.47,748.37M123.48,755.22L144.45,774.58M151.79,781.07L172.49,798.63M180.03,804.89L200.60,821.61M208.33,827.63L228.65,842.77M236.56,848.55L256.76,862.95M264.85,868.48L313.00,900.02M321.30,905.23L369.25,934.07M377.72,939.00L425.53,965.80M434.16,970.44L509.97,1009.46" stroke="#800080" stroke-width="1.4" fill="none"/><polygon points="91.70,719.00 95.60,721.25 95.60,725.75 91.70,728.00 87.80,725.75 87.80,721.25" fill="#800080"/><polygon points="98.74,726.40 102.64,728.65 102.64,733.15 98.74,735.40 94.85,733.15 94.85,728.65" fill="#800080"/><polygon points="105.79,732.80 109.68,735.05 109.68,739.55 105.79,741.80 101.89,739.55 101.89,735.05" fill="#800080"/><polygon points="119.88,747.40 123.77,749.65 123.77,754.15 119.88,756.40 115.98,754.15 115.98,749.65" fill="#800080"/><polygon points="148.05,773.40 151.95,775.65 151.95,780.15 148.05,782.40 144.15,780.15 144.15,775.65" fill="#800080"/><polygon points="176.23,797.30 180.12,799.55 180.12,804.05 176.23,806.30 172.33,804.05 172.33,799.55" fill="#800080"/><polygon points="204.40,820.20 208.30,822.45 208.30,826.95 204.40,829.20 200.50,826.95 200.50,822.45" fill="#800080"/><polygon points="232.57,841.20 236.47,843.45 236.47,847.95 232.57,850.20 228.68,847.95 228.68,843.45" fill="#800080"/><polygon points="260.75,861.30 264.65,863.55 264.65,868.05 260.75,870.30 256.85,868.05 256.85,863.55" fill="#800080"/><polygon points="317.10,898.20 321.00,900.45 321.00,904.95 317.10,907.20 313.20,904.95 313.20,900.45" fill="#800080"/><polygon points="373.45,932.10 377.35,934.35 377.35,938.85 373.45,941.10 369.55,938.85 369.55,934.35" fill="#800080"/><polygon points="429.80,963.70 433.70,965.95 433.70,970.45 429.80,972.70 425.90,970.45 425.90,965.95" fill="#800080"/><polygon points="514.33,1007.20 518.22,1009.45 518.22,1013.95 514.33,1016.20 510.43,1013.95 510.43,1009.45" fill="#800080"/></g>
<g clip-path="url(#cc)"><path d="M110.60,727.37L115.07,728.63M124.61,731.60L143.31,737.90M152.44,741.89L171.83,752.41M180.48,757.43L200.15,769.57M208.66,774.82L228.31,786.88M236.76,792.23L256.56,805.17M264.97,810.59L312.88,841.11M321.39,846.37L369.16,874.93M377.77,880.01L425.48,907.69M434.15,912.67L509.98,955.73" stroke="#008000" stroke-width="1.4" fill="none"/><polygon points="91.70,718.80 92.99,722.32 96.74,722.46 93.79,724.78 94.82,728.39 91.70,726.30 88.58,728.39 89.61,724.78 86.66,722.46 90.41,722.32" fill="#008000"/><polygon points="98.74,719.30 100.04,722.82 103.78,722.96 100.84,725.28 101.86,728.89 98.74,726.80 95.63,728.89 96.65,725.28 93.70,722.96 97.45,722.82" fill="#008000"/><polygon points="105.79,721.30 107.08,724.82 110.83,724.96 107.88,727.28 108.90,730.89 105.79,728.80 102.67,730.89 103.70,727.28 100.75,724.96 104.49,724.82" fill="#008000"/><polygon points="119.88,725.30 121.17,728.82 124.92,728.96 121.97,731.28 122.99,734.89 119.88,732.80 116.76,734.89 117.78,731.28 114.83,728.96 118.58,728.82" fill="#008000"/><polygon points="148.05,734.80 149.34,738.32 153.09,738.46 150.14,740.78 151.17,744.39 148.05,742.30 144.93,744.39 145.96,740.78 143.01,738.46 146.76,738.32" fill="#008000"/><polygon points="176.23,750.10 177.52,753.62 181.27,753.76 178.32,756.08 179.34,759.69 176.23,757.60 173.11,759.69 174.13,756.08 171.18,753.76 174.93,753.62" fill="#008000"/><polygon points="204.40,767.50 205.69,771.02 209.44,771.16 206.49,773.48 207.52,777.09 204.40,775.00 201.28,777.09 202.31,773.48 199.36,771.16 203.11,771.02" fill="#008000"/><polygon points="232.57,784.80 233.87,788.32 237.62,788.46 234.67,790.78 235.69,794.39 232.57,792.30 229.46,794.39 230.48,790.78 227.53,788.46 231.28,788.32" fill="#008000"/><polygon points="260.75,803.20 262.04,806.72 265.79,806.86 262.84,809.18 263.87,812.79 260.75,810.70 257.63,812.79 258.66,809.18 255.71,806.86 259.46,806.72" fill="#008000"/><polygon points="317.10,839.10 318.39,842.62 322.14,842.76 319.19,845.08 320.22,848.69 317.10,846.60 313.98,848.69 315.01,845.08 312.06,842.76 315.81,842.62" fill="#008000"/><polygon points="373.45,872.80 374.74,876.32 378.49,876.46 375.54,878.78 376.57,882.39 373.45,880.30 370.33,882.39 371.36,878.78 368.41,876.46 372.16,876.32" fill="#008000"/><polygon points="429.80,905.50 431.09,909.02 434.84,909.16 431.89,911.48 432.92,915.09 429.80,913.00 426.68,915.09 427.71,911.48 424.76,909.16 428.51,909.02" fill="#008000"/><polygon points="514.33,953.50 515.62,957.02 519.37,957.16 516.42,959.48 517.44,963.09 514.33,961.00 511.21,963.09 512.23,959.48 509.28,957.16 513.03,957.02" fill="#008000"/></g>
<g clip-path="url(#cc)"><path d="M110.99,723.60L114.67,723.60M125.06,724.00L142.87,725.40M153.24,726.17L171.04,727.43M181.39,728.44L199.24,730.66M209.52,732.23L227.46,735.47M237.68,737.40L255.65,740.90M265.82,743.03L312.03,753.37M322.11,755.90L368.44,768.80M378.45,771.64L424.80,785.06M434.72,788.18L509.40,813.62" stroke="#FF0080" stroke-width="1.4" fill="none"/><polygon points="91.70,719.00 96.46,722.45 94.64,728.05 88.76,728.05 86.94,722.45" fill="#FF0080"/><polygon points="98.74,719.10 103.50,722.55 101.68,728.15 95.80,728.15 93.99,722.55" fill="#FF0080"/><polygon points="105.79,719.10 110.54,722.55 108.73,728.15 102.85,728.15 101.03,722.55" fill="#FF0080"/><polygon points="119.88,719.10 124.63,722.55 122.81,728.15 116.94,728.15 115.12,722.55" fill="#FF0080"/><polygon points="148.05,721.30 152.81,724.75 150.99,730.35 145.11,730.35 143.29,724.75" fill="#FF0080"/><polygon points="176.23,723.30 180.98,726.75 179.16,732.35 173.29,732.35 171.47,726.75" fill="#FF0080"/><polygon points="204.40,726.80 209.16,730.25 207.34,735.85 201.46,735.85 199.64,730.25" fill="#FF0080"/><polygon points="232.57,731.90 237.33,735.35 235.51,740.95 229.64,740.95 227.82,735.35" fill="#FF0080"/><polygon points="260.75,737.40 265.51,740.85 263.69,746.45 257.81,746.45 255.99,740.85" fill="#FF0080"/><polygon points="317.10,750.00 321.86,753.45 320.04,759.05 314.16,759.05 312.34,753.45" fill="#FF0080"/><polygon points="373.45,765.70 378.21,769.15 376.39,774.75 370.51,774.75 368.69,769.15" fill="#FF0080"/><polygon points="429.80,782.00 434.56,785.45 432.74,791.05 426.86,791.05 425.04,785.45" fill="#FF0080"/><polygon points="514.33,810.80 519.08,814.25 517.26,819.85 511.39,819.85 509.57,814.25" fill="#FF0080"/></g>
<text x="78.50" y="402.26" font-size="24" text-anchor="end" >0.00</text>
<text x="78.50" y="490.91" font-size="24" text-anchor="end" >-0.01</text>
<text x="78.50" y="579.56" font-size="24" text-anchor="end" >-0.02</text>
<text x="78.50" y="668.21" font-size="24" text-anchor="end" >-0.03</text>
<text x="78.50" y="730.28" font-size="24" text-anchor="end" >0.00</text>
<text x="78.50" y="819.09" font-size="24" text-anchor="end" >-0.01</text>
<text x="78.50" y="907.90" font-size="24" text-anchor="end" >-0.02</text>
<text x="78.50" y="996.71" font-size="24" text-anchor="end" >-0.03</text>
<text x="91.70" y="1074.90" font-size="24" text-anchor="middle" >0</text>
<text x="232.57" y="1074.90" font-size="24" text-anchor="middle" >5</text>
<text x="373.45" y="1074.90" font-size="24" text-anchor="middle" >10</text>
<text x="514.33" y="1074.90" font-size="24" text-anchor="middle" >15</text>
<text x="264.50" y="1097.70" font-size="29.5" text-anchor="start" font-style="italic">H</text>
<text x="293.00" y="1097.70" font-size="29.5" text-anchor="start" >(Oe)</text>
<text transform="translate(21.0,765.0) rotate(-90)" font-size="28.5" font-style="italic">MR <tspan font-style="normal">%</tspan></text>
<text x="109.30" y="692.80" font-size="26.15" text-anchor="start" >(b) Current along [1<tspan>1</tspan>0]</text>
<line x1="334.30" y1="670.20" x2="348.90" y2="670.20" stroke="#000" stroke-width="2.0" stroke-linecap="butt"/>
<text x="105.50" y="1019.30" font-size="25.95" text-anchor="start" >(c) Current along [110]</text>
<line x1="547.00" y1="417.10" x2="601.00" y2="417.10" stroke="#000000" stroke-width="1.6" stroke-linecap="butt"/>
<rect x="570.20" y="413.30" width="7.60" height="7.60" fill="#000000"/>
<text x="607.20" y="424.60" font-size="23.9" text-anchor="start" >177.5K</text>
<line x1="547.00" y1="446.28" x2="601.00" y2="446.28" stroke="#FF0000" stroke-width="1.6" stroke-linecap="butt"/>
<circle cx="574.00" cy="446.28" r="4.40" fill="#FF0000"/>
<text x="607.20" y="453.78" font-size="23.9" text-anchor="start" >177.8K</text>
<line x1="547.00" y1="475.46" x2="601.00" y2="475.46" stroke="#00FF00" stroke-width="1.6" stroke-linecap="butt"/>
<polygon points="574.00,470.62 578.80,479.42 569.20,479.42" fill="#00FF00"/>
<text x="607.20" y="482.96" font-size="23.9" text-anchor="start" >178.2K</text>
<line x1="547.00" y1="504.64" x2="601.00" y2="504.64" stroke="#0000FF" stroke-width="1.6" stroke-linecap="butt"/>
<polygon points="574.00,509.48 578.80,500.68 569.20,500.68" fill="#0000FF"/>
<text x="607.20" y="512.14" font-size="23.9" text-anchor="start" >178.6K</text>
<line x1="547.00" y1="533.82" x2="601.00" y2="533.82" stroke="#00FFFF" stroke-width="1.6" stroke-linecap="butt"/>
<polygon points="574.00,528.72 579.10,533.82 574.00,538.92 568.90,533.82" fill="#00FFFF"/>
<text x="607.20" y="541.32" font-size="23.9" text-anchor="start" >178.7K</text>
<line x1="547.00" y1="563.00" x2="601.00" y2="563.00" stroke="#FF8000" stroke-width="1.6" stroke-linecap="butt"/>
<polygon points="569.33,563.00 577.83,558.15 577.83,567.85" fill="#FF8000"/>
<text x="607.20" y="570.50" font-size="23.9" text-anchor="start" >178.8K</text>
<line x1="547.00" y1="592.18" x2="601.00" y2="592.18" stroke="#808000" stroke-width="1.6" stroke-linecap="butt"/>
<polygon points="578.67,592.18 570.17,587.33 570.17,597.03" fill="#808000"/>
<text x="607.20" y="599.68" font-size="23.9" text-anchor="start" >178.9K</text>
<line x1="547.00" y1="621.36" x2="601.00" y2="621.36" stroke="#800080" stroke-width="1.6" stroke-linecap="butt"/>
<polygon points="574.00,616.86 577.90,619.11 577.90,623.61 574.00,625.86 570.10,623.61 570.10,619.11" fill="#800080"/>
<text x="607.20" y="628.86" font-size="23.9" text-anchor="start" >179K</text>
<line x1="547.00" y1="650.54" x2="601.00" y2="650.54" stroke="#008000" stroke-width="1.6" stroke-linecap="butt"/>
<polygon points="574.00,645.84 575.29,649.36 579.04,649.50 576.09,651.82 577.12,655.43 574.00,653.34 570.88,655.43 571.91,651.82 568.96,649.50 572.71,649.36" fill="#008000"/>
<text x="607.20" y="658.04" font-size="23.9" text-anchor="start" >179.4K</text>
<line x1="547.00" y1="679.72" x2="601.00" y2="679.72" stroke="#FF0080" stroke-width="1.6" stroke-linecap="butt"/>
<circle cx="574.00" cy="679.72" r="4.20" fill="url(#ball)"/>
<text x="607.20" y="687.22" font-size="23.9" text-anchor="start" >180K</text>
<line x1="550.30" y1="761.70" x2="603.80" y2="761.70" stroke="#000000" stroke-width="1.6" stroke-linecap="butt"/>
<rect x="573.40" y="757.90" width="7.60" height="7.60" fill="#000000"/>
<text x="610.80" y="769.20" font-size="23.9" text-anchor="start" >175K</text>
<line x1="550.30" y1="790.90" x2="603.80" y2="790.90" stroke="#FF0000" stroke-width="1.6" stroke-linecap="butt"/>
<circle cx="577.20" cy="790.90" r="4.40" fill="#FF0000"/>
<text x="610.80" y="798.40" font-size="23.9" text-anchor="start" >175.2K</text>
<line x1="550.30" y1="820.10" x2="603.80" y2="820.10" stroke="#00FF00" stroke-width="1.6" stroke-linecap="butt"/>
<polygon points="577.20,815.26 582.00,824.06 572.40,824.06" fill="#00FF00"/>
<text x="610.80" y="827.60" font-size="23.9" text-anchor="start" >175.6K</text>
<line x1="550.30" y1="849.30" x2="603.80" y2="849.30" stroke="#0000FF" stroke-width="1.6" stroke-linecap="butt"/>
<polygon points="577.20,854.14 582.00,845.34 572.40,845.34" fill="#0000FF"/>
<text x="610.80" y="856.80" font-size="23.9" text-anchor="start" >175.9K</text>
<line x1="550.30" y1="878.50" x2="603.80" y2="878.50" stroke="#00FFFF" stroke-width="1.6" stroke-linecap="butt"/>
<polygon points="577.20,873.40 582.30,878.50 577.20,883.60 572.10,878.50" fill="#00FFFF"/>
<text x="610.80" y="886.00" font-size="23.9" text-anchor="start" >176K</text>
<line x1="550.30" y1="907.70" x2="603.80" y2="907.70" stroke="#FF8000" stroke-width="1.6" stroke-linecap="butt"/>
<polygon points="572.53,907.70 581.03,902.85 581.03,912.55" fill="#FF8000"/>
<text x="610.80" y="915.20" font-size="23.9" text-anchor="start" >176.1K</text>
<line x1="550.30" y1="936.90" x2="603.80" y2="936.90" stroke="#808000" stroke-width="1.6" stroke-linecap="butt"/>
<polygon points="581.88,936.90 573.38,932.05 573.38,941.75" fill="#808000"/>
<text x="610.80" y="944.40" font-size="23.9" text-anchor="start" >176.2K</text>
<line x1="550.30" y1="966.10" x2="603.80" y2="966.10" stroke="#800080" stroke-width="1.6" stroke-linecap="butt"/>
<polygon points="577.20,961.60 581.10,963.85 581.10,968.35 577.20,970.60 573.30,968.35 573.30,963.85" fill="#800080"/>
<text x="610.80" y="973.60" font-size="23.9" text-anchor="start" >176.3K</text>
<line x1="550.30" y1="995.30" x2="603.80" y2="995.30" stroke="#008000" stroke-width="1.6" stroke-linecap="butt"/>
<polygon points="577.20,990.60 578.49,994.12 582.24,994.26 579.29,996.58 580.32,1000.19 577.20,998.10 574.08,1000.19 575.11,996.58 572.16,994.26 575.91,994.12" fill="#008000"/>
<text x="610.80" y="1002.80" font-size="23.9" text-anchor="start" >176.7K</text>
<line x1="550.30" y1="1024.50" x2="603.80" y2="1024.50" stroke="#FF0080" stroke-width="1.6" stroke-linecap="butt"/>
<polygon points="577.20,1020.00 581.96,1023.45 580.14,1029.05 574.26,1029.05 572.44,1023.45" fill="#FF0080"/>
<text x="610.80" y="1032.00" font-size="23.9" text-anchor="start" >177.5K</text>
</svg>
</body></html>
